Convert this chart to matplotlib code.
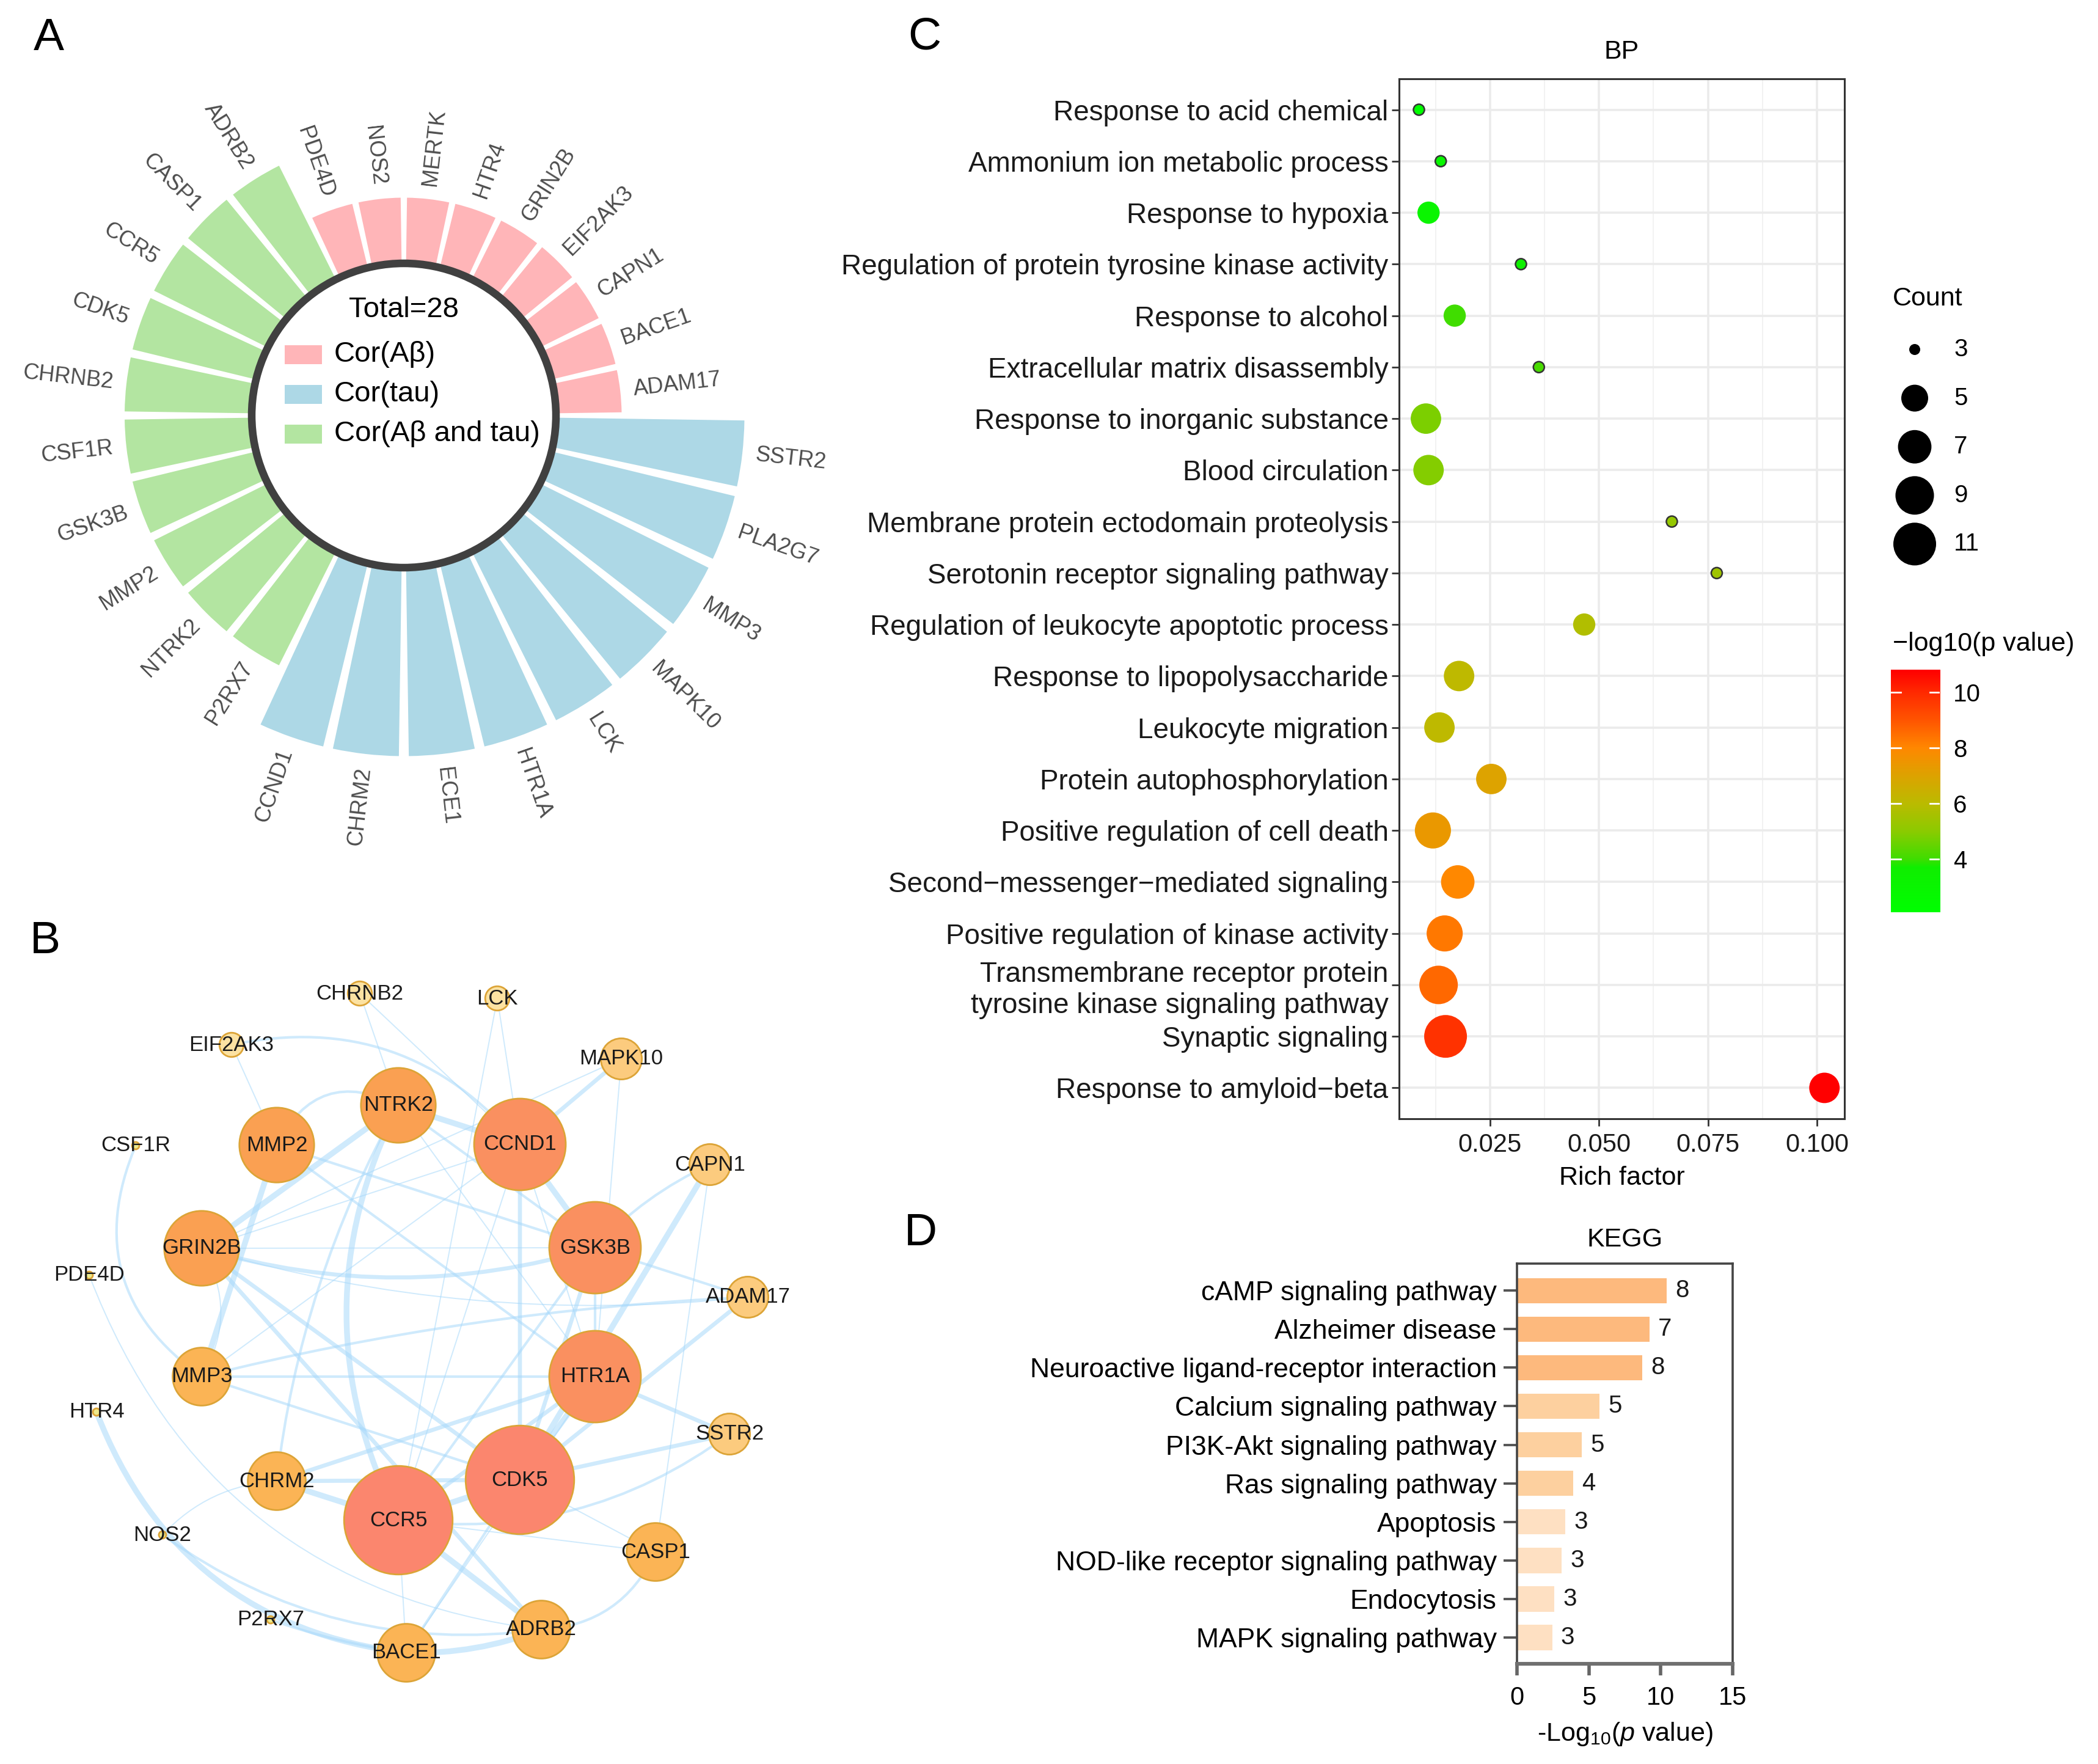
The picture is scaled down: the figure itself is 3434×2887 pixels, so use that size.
import numpy as np
import matplotlib
matplotlib.use('Agg')
import matplotlib.pyplot as plt
from matplotlib.patches import Wedge, Circle, Rectangle, FancyArrowPatch
from matplotlib.colors import LinearSegmentedColormap, Normalize

plt.rcParams['font.family'] = ['Liberation Sans', 'DejaVu Sans']
plt.rcParams['mathtext.fontset'] = 'custom'
plt.rcParams['mathtext.rm'] = 'Liberation Sans'
plt.rcParams['mathtext.it'] = 'Liberation Sans:italic'

W, H, DPI = 3434, 2887, 200

# ---------------- data: panel A (circular bar) ----------------
genes_abeta = ['ADAM17', 'BACE1', 'CAPN1', 'EIF2AK3', 'GRIN2B', 'HTR4', 'MERTK', 'NOS2', 'PDE4D']
genes_both = ['ADRB2', 'CASP1', 'CCR5', 'CDK5', 'CHRNB2', 'CSF1R', 'GSK3B', 'MMP2', 'NTRK2', 'P2RX7']
genes_tau = ['CCND1', 'CHRM2', 'ECE1', 'HTR1A', 'LCK', 'MAPK10', 'MMP3', 'PLA2G7', 'SSTR2']
group_names = ['Cor(Aβ)', 'Cor(tau)', 'Cor(Aβ and tau)']
group_values = {'Cor(Aβ)': 1, 'Cor(Aβ and tau)': 2, 'Cor(tau)': 3}
group_colors = {'Cor(Aβ)': '#FFB5B8', 'Cor(tau)': '#ADD8E6', 'Cor(Aβ and tau)': '#B3E5A1'}
total_genes = 28

# ---------------- data: panel B (network) ----------------
node_names = ['CHRNB2', 'LCK', 'EIF2AK3', 'MAPK10', 'NTRK2', 'MMP2', 'CCND1', 'CSF1R',
              'CAPN1', 'GRIN2B', 'GSK3B', 'PDE4D', 'ADAM17', 'MMP3', 'HTR1A', 'HTR4',
              'SSTR2', 'CHRM2', 'CDK5', 'CCR5', 'NOS2', 'CASP1', 'P2RX7', 'ADRB2', 'BACE1']
node_score = [2, 2, 2, 4, 8, 8, 10, 0,
              4, 8, 10, 0, 4, 6, 10, 0,
              4, 6, 12, 12, 0, 6, 0, 6, 6]
# layout of the network drawing (pixel positions in the source figure)
node_x = [589, 814, 379, 1017, 652, 453, 851, 222,
          1162, 330, 974, 146, 1224, 330, 974, 158,
          1194, 453, 851, 652, 266, 1073, 443, 886, 665]
node_y = [1626, 1634, 1710, 1733, 1809, 1874, 1873, 1875,
          1906, 2043, 2042, 2087, 2123, 2253, 2253, 2311,
          2347, 2424, 2422, 2488, 2512, 2540, 2651, 2667, 2705]
# (source, target, combined score level 1-4, curvature)
edges = [
    ('CHRNB2', 'NTRK2', 1, 0), ('CHRNB2', 'CCND1', 1, 0),
    ('EIF2AK3', 'MMP2', 1, 0), ('EIF2AK3', 'CCND1', 2, -0.3),
    ('LCK', 'CCR5', 1, 0), ('LCK', 'CCND1', 1, 0),
    ('MAPK10', 'CCND1', 3, 0), ('MAPK10', 'GRIN2B', 1, 0), ('MAPK10', 'HTR1A', 1, 0),
    ('CAPN1', 'GSK3B', 2, 0.1), ('CAPN1', 'CDK5', 4, 0), ('CAPN1', 'CASP1', 1, 0),
    ('ADAM17', 'MMP2', 2, 0), ('ADAM17', 'CDK5', 3, 0), ('ADAM17', 'MMP3', 2, 0.05),
    ('ADAM17', 'GRIN2B', 1, -0.1),
    ('SSTR2', 'HTR1A', 3, 0), ('SSTR2', 'CDK5', 3, 0), ('SSTR2', 'CCR5', 2, -0.2),
    ('CASP1', 'CCR5', 1, 0), ('CASP1', 'CDK5', 1, 0), ('CASP1', 'ADRB2', 2, -0.3),
    ('ADRB2', 'BACE1', 4, -0.1), ('ADRB2', 'CCR5', 4, 0), ('ADRB2', 'GRIN2B', 3, 0),
    ('PDE4D', 'ADRB2', 1, 0.3),
    ('BACE1', 'CCR5', 1, 0), ('BACE1', 'CDK5', 2, 0), ('BACE1', 'HTR1A', 1, 0),
    ('HTR4', 'BACE1', 4, 0.3), ('NOS2', 'ADRB2', 2, 0.2), ('P2RX7', 'BACE1', 2, 0.05),
    ('NOS2', 'CHRM2', 1, -0.2), ('CSF1R', 'MMP3', 2, 0.4),
    ('MMP3', 'GRIN2B', 1, 0.3), ('MMP3', 'MMP2', 4, 0), ('MMP3', 'CDK5', 2, 0),
    ('MMP3', 'HTR1A', 2, 0), ('MMP3', 'CCND1', 1, 0),
    ('GRIN2B', 'GSK3B', 1, 0), ('GRIN2B', 'GSK3B', 3, 0.15), ('GRIN2B', 'CCND1', 1, 0),
    ('GRIN2B', 'NTRK2', 4, 0), ('GRIN2B', 'CDK5', 3, 0),
    ('MMP2', 'NTRK2', 2, -0.5), ('MMP2', 'HTR1A', 2, 0),
    ('NTRK2', 'CCND1', 4, 0), ('NTRK2', 'CCR5', 4, 0.25), ('NTRK2', 'GSK3B', 2, 0),
    ('NTRK2', 'HTR1A', 1, 0), ('NTRK2', 'CHRM2', 2, 0.1),
    ('CCND1', 'CDK5', 3, 0), ('CCND1', 'GSK3B', 4, 0), ('CCND1', 'HTR1A', 1, 0),
    ('CCND1', 'CCR5', 1, 0),
    ('GSK3B', 'CDK5', 3, 0), ('GSK3B', 'HTR1A', 2, 0), ('GSK3B', 'CCR5', 2, 0),
    ('HTR1A', 'CDK5', 4, 0), ('HTR1A', 'CCR5', 3, 0), ('HTR1A', 'CHRM2', 3, 0),
    ('CDK5', 'CCR5', 4, 0), ('CHRM2', 'CCR5', 4, 0), ('CHRM2', 'CDK5', 3, 0),
]

# ---------------- data: panel C (GO BP bubble) ----------------
bp_terms = ['Response to acid chemical', 'Ammonium ion metabolic process', 'Response to hypoxia',
            'Regulation of protein tyrosine kinase activity', 'Response to alcohol',
            'Extracellular matrix disassembly', 'Response to inorganic substance',
            'Blood circulation', 'Membrane protein ectodomain proteolysis',
            'Serotonin receptor signaling pathway', 'Regulation of leukocyte apoptotic process',
            'Response to lipopolysaccharide', 'Leukocyte migration', 'Protein autophosphorylation',
            'Positive regulation of cell death', 'Second\u2212messenger\u2212mediated signaling',
            'Positive regulation of kinase activity',
            'Transmembrane receptor protein\ntyrosine kinase signaling pathway',
            'Synaptic signaling', 'Response to amyloid\u2212beta']
bp_rich = [0.0087, 0.0137, 0.0109, 0.0321, 0.0169, 0.0362, 0.0103, 0.0109, 0.0667, 0.0770,
           0.0466, 0.0179, 0.0134, 0.0253, 0.0119, 0.0176, 0.0146, 0.0132, 0.0148, 0.1017]
bp_count = [3, 3, 4, 3, 4, 3, 6, 6, 3, 3, 4, 6, 6, 6, 8, 7, 8, 9, 11, 6]
bp_logp = [2.1, 2.9, 3.1, 3.5, 4.0, 4.1, 4.8, 4.9, 5.2, 5.4,
           5.8, 6.1, 6.1, 7.0, 7.4, 8.0, 8.3, 8.6, 9.8, 10.8]
count_breaks = [3, 5, 7, 9, 11]
logp_breaks = [4, 6, 8, 10]

# ---------------- data: panel D (KEGG bars) ----------------
kegg_terms = ['cAMP signaling pathway', 'Alzheimer disease', 'Neuroactive ligand-receptor interaction',
              'Calcium signaling pathway', 'PI3K-Akt signaling pathway', 'Ras signaling pathway',
              'Apoptosis', 'NOD-like receptor signaling pathway', 'Endocytosis',
              'MAPK signaling pathway']
kegg_logp = [10.4, 9.2, 8.7, 5.75, 4.5, 3.9, 3.35, 3.1, 2.6, 2.45]
kegg_count = [8, 7, 8, 5, 5, 4, 3, 3, 3, 3]


def px_rect(x0, y0, x1, y1):
    return [x0 / W, 1 - y1 / H, (x1 - x0) / W, (y1 - y0) / H]


fig = plt.figure(figsize=(W / DPI, H / DPI), dpi=DPI)
fig.patch.set_facecolor('white')

letter_kw = dict(fontsize=27, ha='center', va='center', color='black')
fig.text(80 / W, 1 - 62 / H, 'A', **letter_kw)
fig.text(74 / W, 1 - 1541 / H, 'B', **letter_kw)
fig.text(1513 / W, 1 - 61 / H, 'C', **letter_kw)
fig.text(1507 / W, 1 - 2019 / H, 'D', **letter_kw)

# ================= Panel A =================
cx, cy = 661, 680
ax_a = fig.add_axes(px_rect(0, 0, 1400, 1480))
ax_a.set_xlim(-cx, 1400 - cx)
ax_a.set_ylim(-(1480 - cy), cy)
ax_a.axis('off')

genes = genes_abeta + genes_both + genes_tau
groups = (['Cor(Aβ)'] * len(genes_abeta) + ['Cor(Aβ and tau)'] * len(genes_both)
          + ['Cor(tau)'] * len(genes_tau))
slot = 360 / len(genes)
r_base, unit, r_start = 256, 100.5, 225
for i, (g, grp) in enumerate(zip(genes, groups)):
    mid = (i + 0.5) * slot
    r_out = r_base + unit * group_values[grp]
    ax_a.add_patch(Wedge((0, 0), r_out, mid - slot * 0.435, mid + slot * 0.435,
                         width=r_out - r_start, fc=group_colors[grp], ec='none', zorder=1))
    r_lab = r_out + 22
    th = np.deg2rad(mid)
    if 90 < mid < 270:
        rot, ha = mid - 180, 'right'
    else:
        rot, ha = (mid if mid < 90 else mid - 360), 'left'
    ax_a.text(r_lab * np.cos(th), r_lab * np.sin(th), g, rotation=rot, rotation_mode='anchor',
              ha=ha, va='center', fontsize=13, color='#4D4D4D')

ax_a.add_patch(Circle((0, 0), 249, fc='white', ec='#404040', lw=4.5, zorder=3))
ax_a.text(0, 173, 'Total=%d' % total_genes, ha='center', va='center', fontsize=17, zorder=4)
for k, grp in enumerate(group_names):
    yy = 100 - 65 * k
    ax_a.add_patch(Rectangle((-195, yy - 15.5), 61, 31, fc=group_colors[grp], ec='none', zorder=4))
    ax_a.text(-114, yy, grp, ha='left', va='center', fontsize=17, zorder=4)

# ================= Panel B =================
ax_b = fig.add_axes(px_rect(0, 1580, 1400, 2887))
ax_b.set_xlim(0, 1400)
ax_b.set_ylim(2887, 1580)
ax_b.axis('off')

pos = {n: (x, y) for n, x, y in zip(node_names, node_x, node_y)}
edge_lw = {1: 0.7, 2: 1.5, 3: 2.4, 4: 3.4}
for a, b, lvl, rad in edges:
    ax_b.add_patch(FancyArrowPatch(pos[a], pos[b], arrowstyle='-',
                                   connectionstyle='arc3,rad=%s' % rad,
                                   lw=edge_lw[lvl], color='#A8D9FB', alpha=0.55,
                                   shrinkA=0, shrinkB=0, zorder=1))

score_color = {0: '#EDE98C', 2: '#FCE2A2', 4: '#FCCB7E', 6: '#FBB455',
               8: '#FAA052', 10: '#FA9060', 12: '#FB866E'}
for n, s in zip(node_names, node_score):
    r = 6 + 6.9 * s
    ax_b.add_patch(Circle(pos[n], r, fc=score_color[s], ec='#DCA437', lw=1.0, zorder=2))
    ax_b.text(pos[n][0], pos[n][1], n, ha='center', va='center', fontsize=12.5,
              color='#1A1A1A', zorder=3)

# ================= Panel C =================
ax_c = fig.add_axes(px_rect(2290, 129, 3019, 1831))
stops = [(2.09, '#00FF00'), (3.7, '#10EE00'), (4.0, '#40DD00'), (5.0, '#8CCB00'),
         (6.0, '#BBBB00'), (7.0, '#DDA300'), (8.0, '#FF8800'), (9.0, '#FF5500'),
         (10.0, '#FF2A00'), (10.81, '#FF0000')]
vmin, vmax = stops[0][0], stops[-1][0]
cmap = LinearSegmentedColormap.from_list(
    'gr', [((v - vmin) / (vmax - vmin), c) for v, c in stops])
norm = Normalize(vmin, vmax)


def count_radius(c):
    # ggplot-like area scale over the legend range 3..11, radius in pixels
    size = 1 + 5 * np.sqrt((c - 3) / 8)
    return 5.2 * size + 3.8


def radius_to_s(r):
    return (2 * r * 72 / DPI) ** 2


rows = np.arange(len(bp_terms))
sizes = [radius_to_s(count_radius(c)) for c in bp_count]
edgec = ['#333333' if c == 3 else 'none' for c in bp_count]
ax_c.scatter(bp_rich, rows, s=sizes, c=bp_logp, cmap=cmap, norm=norm,
             edgecolors=edgec, linewidths=0.9, zorder=3)
ax_c.set_xlim(0.00414, 0.10629)
ax_c.set_ylim(len(bp_terms) - 0.4, -0.6)
ax_c.set_yticks(rows)
ax_c.set_yticklabels(bp_terms)
ax_c.set_xticks([0.025, 0.05, 0.075, 0.1])
ax_c.set_xticklabels(['0.025', '0.050', '0.075', '0.100'])
ax_c.set_xticks([0.0125, 0.0375, 0.0625, 0.0875], minor=True)
ax_c.grid(which='major', color='#EBEBEB', lw=1.3, zorder=0)
ax_c.grid(which='minor', axis='x', color='#F2F2F2', lw=0.7, zorder=0)
ax_c.set_axisbelow(True)
ax_c.tick_params(axis='both', which='major', length=4.3, width=1, color='#333333',
                 labelsize=15, labelcolor='#1A1A1A')
ax_c.tick_params(axis='y', pad=2, labelsize=16.5)
ax_c.tick_params(axis='x', pad=4)
ax_c.tick_params(which='minor', length=0)
for sp in ax_c.spines.values():
    sp.set_color('#333333')
    sp.set_linewidth(1.1)
ax_c.set_xlabel('Rich factor', fontsize=15.5, labelpad=5)
ax_c.set_title('BP', fontsize=15.5, pad=12)

# size legend
ax_l = fig.add_axes(px_rect(3050, 440, 3434, 950))
ax_l.set_xlim(3050, 3434)
ax_l.set_ylim(950, 440)
ax_l.axis('off')
ax_l.text(3098, 489, 'Count', ha='left', va='center', fontsize=15.5)
for k, c in enumerate(count_breaks):
    yy = 572 + 79.6 * k
    ax_l.scatter([3134], [yy], s=radius_to_s(count_radius(c)), color='black', edgecolors='none')
    ax_l.text(3198, yy, str(c), ha='left', va='center', fontsize=14.5)

fig.text(3098 / W, 1 - 1054 / H, '\u2212log10(p value)', ha='left', va='center', fontsize=15.5)
cax = fig.add_axes(px_rect(3095, 1096, 3175, 1493))
grad = np.linspace(vmin, vmax, 256)[:, None]
cax.imshow(grad, aspect='auto', cmap=cmap, norm=norm, origin='lower',
           extent=[0, 1, vmin, vmax])
cax.set_xlim(0, 1)
cax.set_ylim(vmin, vmax)
cax.set_xticks([])
cax.yaxis.tick_right()
cax.set_yticks(logp_breaks)
cax.set_yticklabels([str(v) for v in logp_breaks])
cax.tick_params(axis='y', length=0, labelsize=14.5, pad=8)
for sp in cax.spines.values():
    sp.set_visible(False)
for v in logp_breaks:
    cax.plot([0, 0.2], [v, v], color='white', lw=1)
    cax.plot([0.8, 1], [v, v], color='white', lw=1)

# ================= Panel D =================
ax_d = fig.add_axes(px_rect(2483, 2068, 2836, 2723))
bar_colors = ['#FDB97D' if c >= 7 else '#FDD09F' if c >= 4 else '#FEE0C2' for c in kegg_count]
krows = np.arange(len(kegg_terms))
ax_d.barh(krows, kegg_logp, height=0.655, color=bar_colors, edgecolor='none', zorder=2)
for yy, v, c in zip(krows, kegg_logp, kegg_count):
    ax_d.text(v + 0.6, yy, str(c), ha='left', va='center', fontsize=14.5, color='#1A1A1A')
ax_d.set_xlim(0, 15)
ax_d.set_ylim(len(kegg_terms) - 0.32, -0.7)
ax_d.set_yticks(krows)
ax_d.set_yticklabels(kegg_terms)
ax_d.set_xticks([0, 5, 10, 15])
ax_d.tick_params(axis='y', length=8, width=1.4, color='#555555', labelsize=16, pad=4)
ax_d.tick_params(axis='x', length=7, width=2, color='#666666', labelsize=15, pad=6)
for name, sp in ax_d.spines.items():
    sp.set_color('#444444')
    sp.set_linewidth(1.3)
ax_d.spines['bottom'].set_color('#707070')
ax_d.spines['bottom'].set_linewidth(2.2)
ax_d.set_xlabel('-Log$_{10}$($\\mathit{p}$ value)', fontsize=15.5, labelpad=6)
ax_d.set_title('KEGG', fontsize=15.5, pad=10)

fig.savefig('out.png', dpi=DPI, facecolor='white')
